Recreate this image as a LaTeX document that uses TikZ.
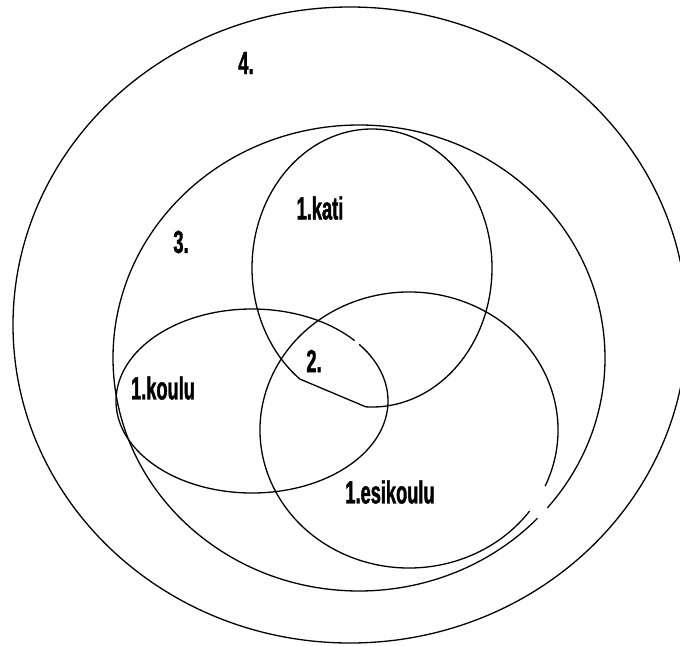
\documentclass[tikz,border=0pt]{standalone}
\usepackage{fontspec}
\newfontfamily\lblfont[FakeStretch=0.57,FakeBold=1.2]{Liberation Sans}

\begin{document}
\begin{tikzpicture}[
  x=0.5pt, y=0.5pt,
  ring/.style={draw=black, line width=0.65pt},
  lbl/.style={font=\lblfont\bfseries\fontsize{16}{16}\selectfont, inner sep=0pt},
]
\useasboundingbox (0,0) rectangle (680,645);

%% outer area (4.), cut by the page edge
\begin{scope}
  \clip (0,0) rectangle (680,645);
  \draw[ring] (350,320) ellipse [x radius=337, y radius=318];
\end{scope}

% area 3. (small gap lower right)
\draw[ring] (359,287) ++(-40:246 and 233)
  arc [start angle=-40, end angle=316.5, x radius=246, y radius=233];

% kati, flattened lower left
\draw[ring] (372,377) ++(-93:120 and 139)
  arc [start angle=-93, end angle=233, x radius=120, y radius=139] -- cycle;

% koulu (small gap upper right)
\draw[ring] (252,244) ++(41:136 and 92)
  arc [start angle=41, end angle=398, x radius=136, y radius=92];

% esikoulu (gap lower right)
\draw[ring] (409,215) ++(-24:149 and 138)
  arc [start angle=-24, end angle=324, x radius=149, y radius=138];

% labels
\node[lbl] (four)  at (246,582) {4.};
\node[lbl] (three) at (181,403) {3.};
\node[lbl] (kati)  at (320,437) {1.kati};
\node[lbl] (two)   at (314,284) {2.};
\node[lbl] (koulu) at (163,257) {1.koulu};
\node[lbl] (esik)  at (390,153) {1.esikoulu};

\end{tikzpicture}
\end{document}
